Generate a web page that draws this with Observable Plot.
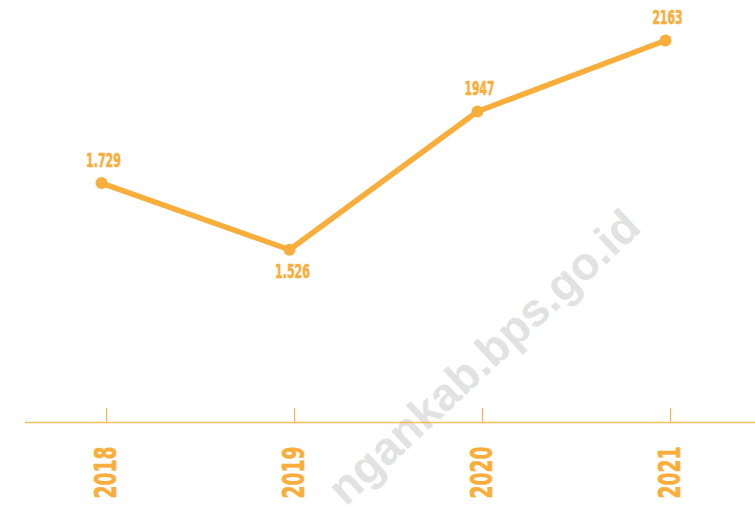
<!DOCTYPE html>
<html>
<head>
<meta charset="utf-8">
<script src="https://cdn.jsdelivr.net/npm/d3@7"></script>
<script src="https://cdn.jsdelivr.net/npm/@observablehq/plot@0.6"></script>
<style>
  html, body { margin: 0; padding: 0; background: #fff; }
  #chart { width: 755px; height: 507px; }
</style>
</head>
<body>
<div id="chart"></div>
<script>
const years = ["2018", "2019", "2020", "2021"];
const values = [1729, 1526, 1947, 2163];
const valueLabels = ["1.729", "1.526", "1947", "2163"];
const watermark = "ngankab.bps.go.id";

const data = years.map((y, i) => ({year: y, value: values[i], label: valueLabels[i]}));
const orange = "#F9AE3B";
const font = "'DejaVu Sans', sans-serif";

const chart = Plot.plot({
  width: 755,
  height: 507,
  marginLeft: 25,
  marginRight: 0,
  marginTop: 40,
  marginBottom: 85,
  style: {background: "transparent", fontFamily: font, fontStretch: "condensed"},
  x: {type: "point", domain: years, range: [105, 671], padding: 0, axis: null},
  y: {domain: [1000, 2163], axis: null},
  marks: [
    Plot.ruleY([1000], {stroke: orange, strokeWidth: 1.5, strokeOpacity: 0.8}),
    Plot.axisX({anchor: "bottom", tickSize: -14, tickFormat: () => "", label: null, stroke: orange, strokeWidth: 1.2, strokeOpacity: 0.9}),
    Plot.text(years, {x: d => d, frameAnchor: "bottom", rotate: -90, textAnchor: "end", lineAnchor: "middle", dy: 24, fill: orange, stroke: orange, strokeWidth: 0.6, fontSize: 30, fontWeight: "bold"}),
    Plot.line(data, {x: "year", y: "value", stroke: orange, strokeWidth: 5.5, dx: -5}),
    Plot.dot(data, {x: "year", y: "value", r: 6, fill: orange, stroke: "none", dx: -5}),
    Plot.text(data.filter(d => d.year !== "2019"), {x: "year", y: "value", text: "label", dy: -22.5, dx: -3, fill: orange, stroke: orange, strokeWidth: 0.6, fontSize: 19.5, fontWeight: "bold"}),
    Plot.text(data.filter(d => d.year === "2019"), {x: "year", y: "value", text: "label", dy: 22, dx: -2, fill: orange, stroke: orange, strokeWidth: 0.6, fontSize: 19.5, fontWeight: "bold"})
  ]
});

const svg = d3.select(chart);
// fit the condensed look of the original labels
svg.selectAll("g[aria-label='text'] text").each(function() {
  const t = d3.select(this);
  const s = t.text();
  if (years.includes(s)) {
    t.attr("textLength", 52).attr("lengthAdjust", "spacingAndGlyphs");
  } else if (valueLabels.includes(s)) {
    t.attr("textLength", s.includes(".") ? 35 : 30).attr("lengthAdjust", "spacingAndGlyphs");
  }
});

// faint watermark behind the chart
svg.insert("text", ":first-child")
  .attr("transform", "translate(632,218) rotate(-43)")
  .attr("text-anchor", "end")
  .attr("dy", "0.35em")
  .attr("fill", "#e2e2e2")
  .attr("font-family", "'Liberation Sans', Arial, sans-serif")
  .attr("font-weight", "bold")
  .attr("font-size", 46)
  .text(watermark);

document.getElementById("chart").appendChild(chart);
</script>
</body>
</html>
